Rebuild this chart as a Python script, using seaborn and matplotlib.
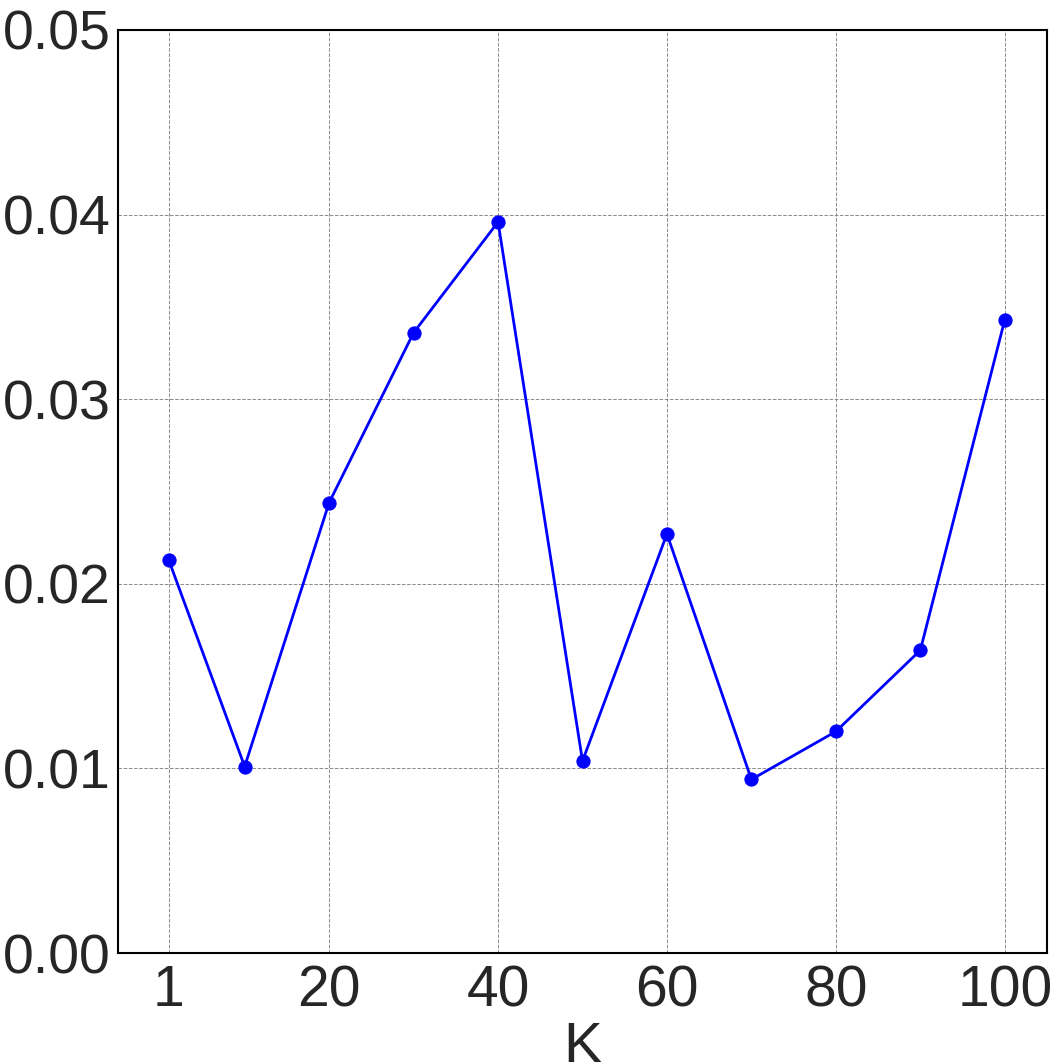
import matplotlib
matplotlib.use("Agg")
import matplotlib.pyplot as plt
import seaborn as sns
import pandas as pd

# values
k_values = [1, 10, 20, 30, 40, 50, 60, 70, 80, 90, 100]
scores = [0.0213, 0.0101, 0.0244, 0.0336, 0.0396, 0.0104, 0.0227, 0.0094, 0.0120, 0.0164, 0.0343]
x_ticks = [1, 20, 40, 60, 80, 100]
y_ticks = [0.00, 0.01, 0.02, 0.03, 0.04, 0.05]

df = pd.DataFrame({"K": k_values, "score": scores})

sns.set_style("white")
plt.rcParams['font.family'] = ['Liberation Sans', 'DejaVu Sans']

fig, ax = plt.subplots(figsize=(10.61, 10.62), dpi=100)
fig.subplots_adjust(left=118/1061, right=1047/1061, top=1 - 30/1062, bottom=1 - 953/1062)

sns.lineplot(data=df, x="K", y="score", ax=ax, color="blue", marker="o",
             markersize=9.5, markeredgecolor="blue", linewidth=2)

ax.set_xlim(-5, 105)
ax.set_ylim(0, 0.05)
ax.set_xticks(x_ticks)
ax.set_yticks(y_ticks)
ax.set_yticklabels([f"{v:.2f}" for v in y_ticks])
ax.tick_params(axis="x", labelsize=41, colors="#262626", length=0, pad=8)
ax.tick_params(axis="y", labelsize=40, colors="#262626", length=0, pad=5)
ax.set_xlabel("K", fontsize=42, color="#262626", labelpad=2)
ax.set_ylabel("")
ax.grid(True, linestyle="--", color="gray", linewidth=0.7, alpha=0.9)
for spine in ax.spines.values():
    spine.set_color("black")
    spine.set_linewidth(1.5)

fig.savefig("out.png", dpi=100)
